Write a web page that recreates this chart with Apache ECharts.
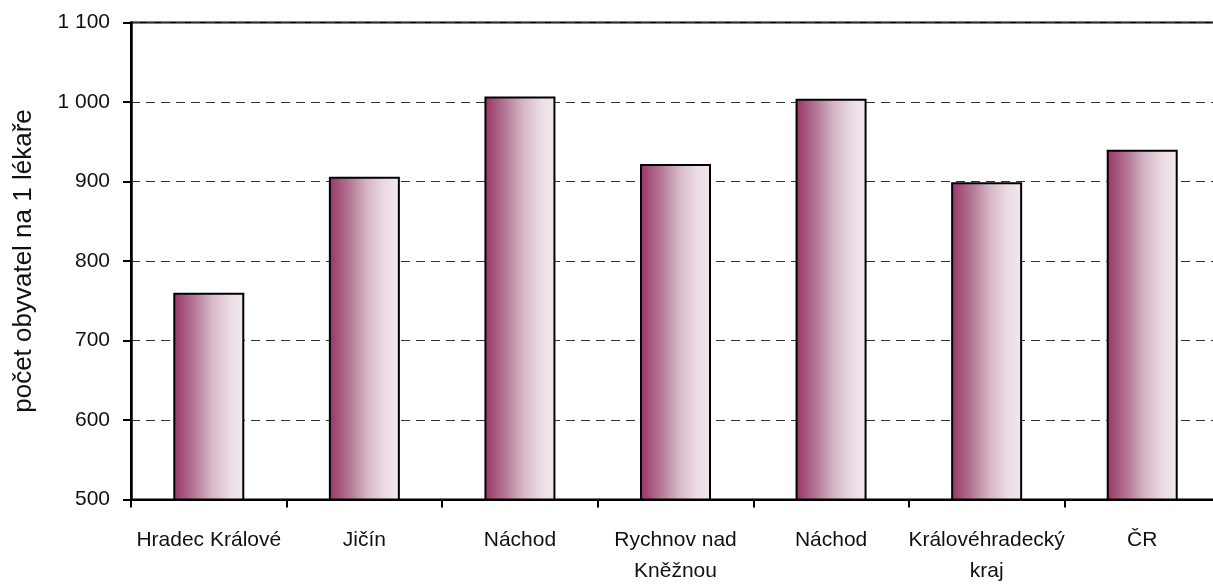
<!DOCTYPE html>
<html>
<head>
<meta charset="utf-8">
<script src="https://cdn.jsdelivr.net/npm/echarts@6/dist/echarts.min.js"></script>
<style>
html,body{margin:0;padding:0;background:#fff;}
#chart{width:1213px;height:585px;}
</style>
</head>
<body>
<div id="chart"></div>
<script>
const categories = ["Hradec Králové", "Jičín", "Náchod", "Rychnov nad\nKněžnou", "Náchod", "Královéhradecký\nkraj", "ČR"];
const values = [760, 906, 1007, 922, 1004, 899, 940];
const yTicks = [500, 600, 700, 800, 900, 1000, 1100];
const yTitle = "počet obyvatel na 1 lékaře";

const labelFont = '"Liberation Sans", Arial, sans-serif';

const chart = echarts.init(document.getElementById('chart'), null, {renderer: 'canvas'});
chart.setOption({
  animation: false,
  backgroundColor: '#ffffff',
  grid: {
    left: 131, right: -7, top: 22.5, bottom: 85.5,
    containLabel: false,
    outerBoundsMode: 'none',
    show: true, borderColor: '#000', borderWidth: 2, backgroundColor: 'transparent'
  },
  xAxis: {
    type: 'category',
    data: categories,
    axisLine: {lineStyle: {color: '#000', width: 2}},
    axisTick: {show: true, length: 8, alignWithLabel: false, lineStyle: {color: '#000', width: 2}},
    axisLabel: {
      interval: 0, margin: 25, color: '#111',
      fontFamily: labelFont, fontSize: 21, lineHeight: 31, align: 'center'
    }
  },
  yAxis: {
    type: 'value',
    min: yTicks[0], max: yTicks[yTicks.length - 1], interval: 100,
    name: yTitle,
    nameLocation: 'middle',
    nameGap: 94,
    nameRotate: 90,
    nameTextStyle: {fontFamily: labelFont, fontSize: 26, color: '#111'},
    axisLine: {show: true, lineStyle: {color: '#000', width: 2.5}},
    axisTick: {show: true, length: 8, lineStyle: {color: '#000', width: 2}},
    axisLabel: {
      margin: 21, color: '#111', fontFamily: labelFont, fontSize: 21,
      formatter: v => String(v).replace(/\B(?=(\d{3})+(?!\d))/g, ' ')
    },
    splitLine: {show: true, lineStyle: {color: '#333', width: 1, type: [9, 6]}}
  },
  series: [{
    type: 'bar',
    data: values,
    barWidth: 71,
    itemStyle: {
      borderColor: '#000',
      borderWidth: 2,
      color: {
        type: 'linear', x: 0, y: 0, x2: 1, y2: 0,
        colorStops: [
          {offset: 0, color: '#993366'},
          {offset: 0.3, color: '#b47a96'},
          {offset: 0.55, color: '#d6b8c7'},
          {offset: 0.8, color: '#ecdce5'},
          {offset: 1, color: '#f4e8ef'}
        ]
      }
    }
  }]
});
</script>
</body>
</html>
